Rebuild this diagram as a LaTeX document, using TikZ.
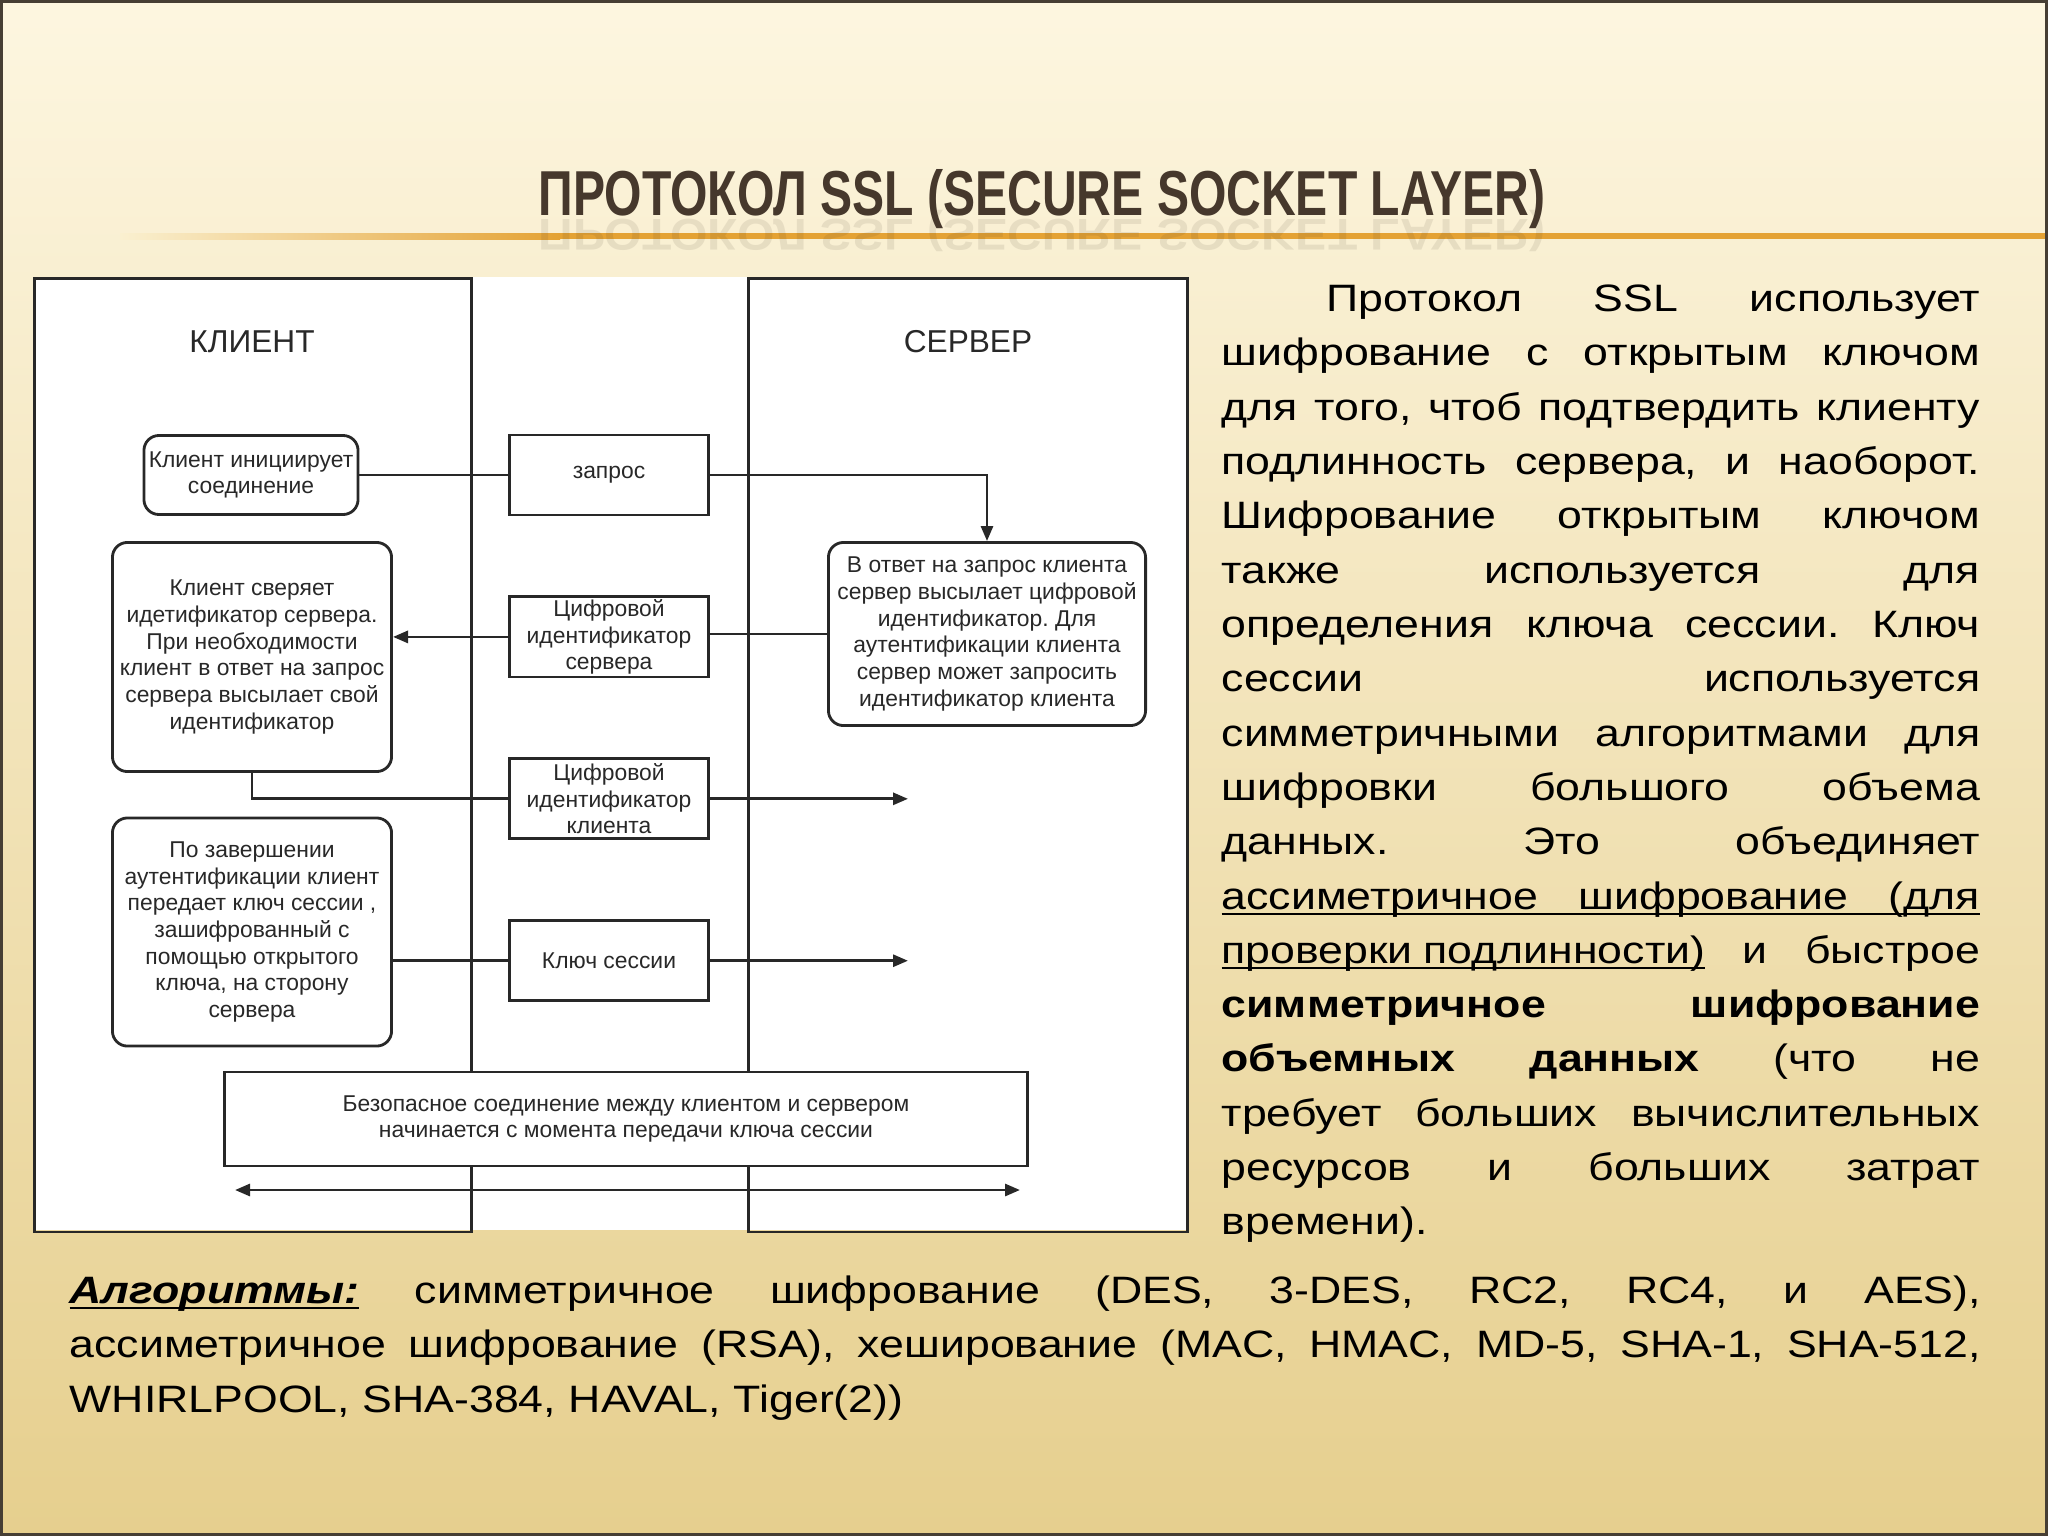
\documentclass[tikz,border=0pt]{standalone}
\usepackage{graphicx}
\usepackage{fontspec}
\setmainfont{Liberation Sans}
\newfontfamily\widefont{Liberation Sans}[FakeStretch=1.17]
\usetikzlibrary{arrows.meta,positioning}
\definecolor{slidetop}{RGB}{253,246,224}
\definecolor{slidemid}{RGB}{245,228,178}
\definecolor{slidebot}{RGB}{230,207,142}
\definecolor{rulefade}{RGB}{250,240,208}
\definecolor{titlebrown}{RGB}{70,56,44}
\definecolor{ruleorange}{RGB}{228,162,52}
\definecolor{inkgray}{RGB}{40,40,40}
\definecolor{framegray}{RGB}{70,62,52}

\frenchspacing
\newlength\colw \setlength\colw{7.58cm}
\newlength\botw \setlength\botw{19.1cm}
\newcommand\jline[2][\colw]{\makebox[#1][s]{\spaceskip=0.28em plus 1fil\relax #2}}
\newcommand\ulin[1]{\leavevmode\setbox0\hbox{#1}\rlap{\rule[-1.6pt]{\wd0}{0.6pt}}\box0\relax}
\newcommand\diagfont{\fontsize{6.5}{7.6}\selectfont}
\newcommand\bodyfont{\widefont\fontsize{10.85}{15.45}\selectfont}
\newcommand\titletext{\resizebox{10.06cm}{0.46cm}{\bfseries ПРОТОКОЛ SSL (SECURE SOCKET LAYER)}}

\begin{document}
\begin{tikzpicture}[x=0.01cm,y=-0.01cm,>={Triangle[length=1.5mm,width=1.2mm]},
  lane/.style={draw=inkgray,line width=0.8pt,inner sep=0pt,anchor=north west},
  msgbox/.style={draw=inkgray,fill=white,line width=0.8pt,minimum width=1.99cm,minimum height=0.8cm,inner xsep=0pt,inner ysep=-1pt,align=center,font=\diagfont,text=inkgray},
  actbox/.style={msgbox,rounded corners=0.15cm},
  wire/.style={draw=inkgray,line width=0.8pt},
  flow/.style={wire,->},
  lanetitle/.style={font=\fontsize{9}{11}\selectfont,text=inkgray}]

\useasboundingbox (0,0) rectangle (2048,1536);
\shade[top color=slidetop,middle color=slidemid,bottom color=slidebot] (0,0) rectangle (2048,1536);

% title and rule
\shade[left color=rulefade,right color=ruleorange] (120,233) rectangle (560,239);
\fill[ruleorange] (560,233) rectangle (2048,239);
\node[anchor=base,text=titlebrown,inner sep=0pt] (title) at (1042,215) {\titletext};
\node[anchor=base,text=titlebrown,inner sep=0pt,yscale=-0.7,opacity=0.1] (titleecho) at (1042,219) {\titletext};

% diagram
\fill[white] (33,277) rectangle (1186,1230);
\node[lane,minimum width=4.37cm,minimum height=9.53cm] (clientlane) at (33,277) {};
\node[lane,minimum width=4.39cm,minimum height=9.53cm] (serverlane) at (747,277) {};
\node[lanetitle] (clientlbl) at (252,342) {КЛИЕНТ};
\node[lanetitle] (serverlbl) at (968,342) {СЕРВЕР};

\node[actbox,minimum width=2.14cm,minimum height=0.79cm] (cinit) at (251,475) {Клиент инициирует\\соединение};
\node[msgbox] (zapros) at (609,475) {запрос};
\node[msgbox,below=0.79cm of zapros] (srvid) {Цифровой\\идентификатор\\сервера};
\node[msgbox,below=0.79cm of srvid] (cid) {Цифровой\\идентификатор\\клиента};
\node[msgbox,below=0.79cm of cid] (sesskey) {Ключ сессии};
\node[actbox,minimum width=3.17cm,minimum height=1.83cm] (srvresp) at (987,634) {В ответ на запрос клиента\\сервер высылает цифровой\\идентификатор. Для\\аутентификации клиента\\сервер может запросить\\идентификатор клиента};
\node[actbox,minimum width=2.79cm,minimum height=2.29cm] (ccheck) at (252,657) {Клиент сверяет\\идетификатор сервера.\\При необходимости\\клиент в ответ на запрос\\сервера высылает свой\\идентификатор};
\node[actbox,minimum width=2.79cm,minimum height=2.28cm] (ckey) at (252,932) {По завершении\\аутентификации клиент\\передает ключ сессии ,\\зашифрованный с\\помощью открытого\\ключа, на сторону\\сервера};
\node[msgbox,minimum width=8.02cm,minimum height=0.94cm] (secure) at (626,1119) {Безопасное соединение между клиентом и сервером\\начинается с момента передачи ключа сессии};

\coordinate (tipline) at (908,0);
\coordinate (linkl) at (235,1190);
\coordinate (linkr) at (1020,1190);

\draw[wire] (cinit) -- (zapros);
\draw[flow] (zapros) -| (srvresp);
\draw[wire] (srvresp.west) -- (srvresp.west -| srvid.east);
\draw[flow] (srvid.west) -- (srvid.west -| ccheck.east);
\draw[wire] (ccheck) |- (cid);
\draw[flow] (cid.east) -- (cid.east -| tipline);
\draw[wire] (sesskey.west -| ckey.east) -- (sesskey);
\draw[flow] (sesskey.east) -- (sesskey.east -| tipline);
\draw[wire,<->] (linkl) -- (linkr);

% text beside and below
\node[anchor=north west,inner sep=0pt,text width=\colw,align=left,font=\bodyfont] (body) at (1221,284) {%
\jline{\hspace*{1.05cm}Протокол SSL использует}\\
\jline{шифрование с открытым ключом}\\
\jline{для того, чтоб подтвердить клиенту}\\
\jline{подлинность сервера, и наоборот.}\\
\jline{Шифрование открытым ключом}\\
\jline{также используется для}\\
\jline{определения ключа сессии. Ключ}\\
\jline{сессии используется}\\
\jline{симметричными алгоритмами для}\\
\jline{шифровки большого объема}\\
\jline{данных. Это объединяет}\\
\ulin{\jline{ассиметричное шифрование (для}}\\
\jline{\ulin{проверки подлинности)} и быстрое}\\
\jline{\textbf{симметричное шифрование}}\\
\jline{\textbf{объемных данных} (что не}\\
\jline{требует больших вычислительных}\\
\jline{ресурсов и больших затрат}\\
времени).};

\node[anchor=north west,inner sep=0pt,text width=\botw,align=left,font=\bodyfont] (algos) at (69,1275) {%
\jline[\botw]{\ulin{\textbf{\textit{Алгоритмы:}}} симметричное шифрование (DES, 3-DES, RC2, RC4, и AES),}\\
\jline[\botw]{ассиметричное шифрование (RSA), хеширование (MAC, HMAC, MD-5, SHA-1, SHA-512,}\\
WHIRLPOOL, SHA-384, HAVAL, Tiger(2))};

\draw[framegray,line width=1.5pt] (0,0) rectangle (2048,1536);
\end{tikzpicture}
\end{document}
